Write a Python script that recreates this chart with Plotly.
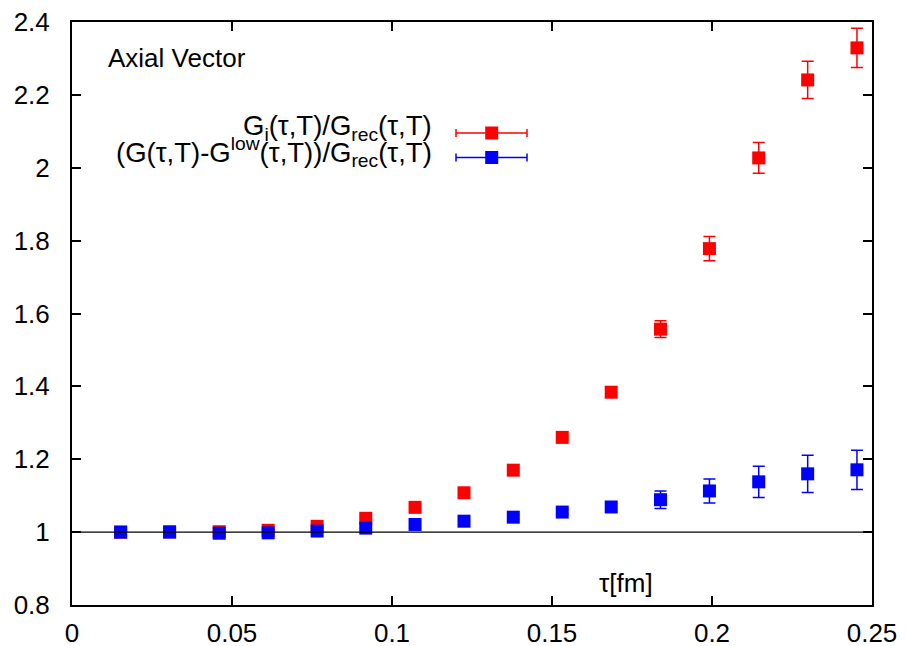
import plotly.graph_objects as go

# tau values [fm]
tau = [0.0152, 0.0305, 0.0460, 0.0613, 0.0766, 0.0918, 0.1072, 0.1225,
       0.1379, 0.1532, 0.1685, 0.1839, 0.1992, 0.2146, 0.2299, 0.2453]

# G_i / G_rec
ratio_i = [1.000, 1.001, 1.001, 1.005, 1.016, 1.038, 1.068, 1.108,
           1.170, 1.260, 1.384, 1.557, 1.778, 2.027, 2.241, 2.329]
ratio_i_err = [0.001, 0.001, 0.001, 0.001, 0.002, 0.002, 0.003, 0.004,
               0.005, 0.007, 0.010, 0.023, 0.033, 0.042, 0.051, 0.054]

# (G - G_low) / G_rec
ratio_low = [1.000, 1.000, 0.997, 0.998, 1.003, 1.011, 1.021, 1.030,
             1.041, 1.055, 1.069, 1.089, 1.113, 1.138, 1.160, 1.171]
ratio_low_err = [0.001, 0.001, 0.001, 0.001, 0.002, 0.002, 0.003, 0.004,
                 0.005, 0.007, 0.010, 0.024, 0.033, 0.043, 0.051, 0.054]

FONT = "Liberation Sans, Arial, Helvetica, sans-serif"
RED = "#ff0000"
BLUE = "#0000ff"

# plot area in pixels (from the reference)
L, R, T, B = 72, 872, 22, 605
W, H = R - L, B - T


def px(x):
    return (x - L) / W


def py(y):
    return (B - y) / H


fig = go.Figure()

for y, err, col in [(ratio_i, ratio_i_err, RED), (ratio_low, ratio_low_err, BLUE)]:
    fig.add_trace(go.Scatter(
        x=tau, y=y, mode="markers",
        marker=dict(symbol="square", size=13, color=col, line=dict(width=0)),
        error_y=dict(type="data", array=err, visible=True, color=col,
                     thickness=1.5, width=6),
        showlegend=False,
    ))

# horizontal line at 1
fig.add_shape(type="line", xref="paper", yref="y", x0=0, x1=1, y0=1, y1=1,
              line=dict(color="black", width=1.2))


def legend_entry(label, col, ypix):
    ypos = py(ypix)
    fig.add_annotation(text=label, xref="paper", yref="paper", x=px(434), y=py(ypix - 5),
                       xanchor="right", yanchor="middle", showarrow=False,
                       font=dict(family=FONT, size=27.5, color="black"))
    # error-bar sample
    x0, x1 = px(456), px(527)
    fig.add_shape(type="line", xref="paper", yref="paper", x0=x0, x1=x1,
                  y0=ypos, y1=ypos, line=dict(color=col, width=1.5))
    for xc in (x0, x1):
        fig.add_shape(type="line", xref="paper", yref="paper", xsizemode="pixel",
                      ysizemode="pixel", xanchor=xc, yanchor=ypos,
                      x0=0, x1=0, y0=-4, y1=4, line=dict(color=col, width=1.5))
    fig.add_shape(type="rect", xref="paper", yref="paper", xsizemode="pixel",
                  ysizemode="pixel", xanchor=px(491.7), yanchor=ypos,
                  x0=-6.5, x1=6.5, y0=-6.5, y1=6.5,
                  fillcolor=col, line=dict(width=0))


legend_entry("G<sub>i</sub>(τ,T)/G<sub>rec</sub>(τ,T)", RED, 133)
legend_entry("(G(τ,T)-G<sup>low</sup>(τ,T))/G<sub>rec</sub>(τ,T)", BLUE, 157.5)

fig.add_annotation(text="Axial Vector", xref="paper", yref="paper",
                   x=px(106), y=py(58),
                   xanchor="left", yanchor="middle", showarrow=False,
                   font=dict(family=FONT, size=26, color="black"))

fig.add_annotation(text="τ[fm]", xref="paper", yref="paper",
                   x=px(626), y=py(583),
                   xanchor="center", yanchor="middle", showarrow=False,
                   font=dict(family=FONT, size=26, color="black"))

axis_common = dict(showline=True, linecolor="black", linewidth=2, mirror="allticks",
                   ticks="inside", ticklen=9, tickwidth=1.5, tickcolor="black",
                   showgrid=False, zeroline=False, automargin=False,
                   tickfont=dict(family=FONT, size=26, color="black"))

fig.update_xaxes(range=[0, 0.25], dtick=0.05, tick0=0, ticklabelstandoff=4, **axis_common)
fig.update_yaxes(range=[0.8, 2.4], dtick=0.2, tick0=0.8, ticklabelstandoff=15, **axis_common)

fig.update_layout(
    width=907, height=646,
    margin=dict(l=L, r=907 - R, t=T, b=646 - B),
    plot_bgcolor="white", paper_bgcolor="white",
    font=dict(family=FONT, size=26, color="black"),
    showlegend=False,
)

# drop the browser's default body margin so the figure sits at the page origin
fig.write_html("out.html", config={"displayModeBar": False},
               post_script="document.body.style.margin = '0px';")
